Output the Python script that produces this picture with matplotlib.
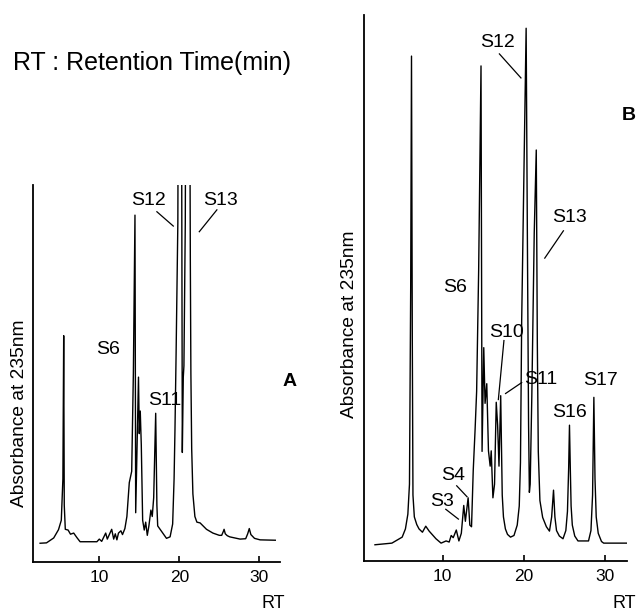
import matplotlib
matplotlib.use("Agg")
import matplotlib.pyplot as plt

plt.rcParams['font.family'] = ['Liberation Sans', 'DejaVu Sans']

# Chromatogram A (retention time in min, absorbance in % of axis height)
rt_a = [2.6, 3.4, 4.3, 4.9, 5.25, 5.45, 5.55, 5.62, 5.75, 6.1, 6.4, 6.8, 7.2, 7.6,
        9.7, 10.0, 10.3, 10.8, 11.0, 11.55, 11.8, 12.0, 12.2, 12.4, 12.7, 12.9, 13.2,
        13.45, 13.75, 14.05, 14.26, 14.46, 14.55, 14.9, 15.0, 15.12, 15.25, 15.42,
        15.62, 15.8, 16.0, 16.2, 16.45, 16.62, 16.8, 17.05, 17.2, 17.3, 17.6, 18.0,
        18.4, 18.85, 19.17, 19.35, 19.46, 19.6, 19.82, 20.1, 20.38, 20.5, 20.58,
        20.75, 21.05, 21.38, 21.45, 21.55, 21.7, 21.95, 22.2, 22.6, 23.4, 24.2, 25.0,
        25.3, 25.5, 25.6, 25.75, 26.0, 26.3, 27.6, 28.3, 28.55, 28.75, 28.95, 29.4,
        30.1, 32.0]
abs_a = [4.9, 5.0, 6.3, 8.5, 11, 22, 60, 15, 8.6, 8.4, 7.3, 7.6, 6.4, 5.3,
         5.3, 6.0, 5.4, 7.6, 6.0, 8.6, 6.0, 7.4, 5.8, 7.6, 8.2, 7.2, 8.8,
         12, 21, 24, 50, 92, 13, 49, 34, 40, 31, 11,
         8.4, 10.5, 7.0, 9.5, 13.7, 12.0, 17, 39.4, 15, 9.5, 8.6, 7.4,
         6.2, 6.6, 10, 22, 35, 55, 90, 300, 29, 49, 52,
         90, 300, 80, 50, 30, 18, 12, 10.5, 10.3, 8.6, 7.6, 7.0,
         7.0, 8.0, 8.6, 7.4, 6.9, 6.6, 6.0, 6.1, 7.4, 8.8, 7.2, 6.2,
         5.8, 5.7]

# Chromatogram B
rt_b = [1.64, 3.73, 5.0, 5.4, 5.7, 5.9, 6.05, 6.15, 6.25, 6.33, 6.5, 6.8, 7.08, 7.5,
        7.91, 8.33, 9.17, 9.8, 10.42, 10.8, 11.05, 11.3, 11.68, 12.0, 12.3, 12.6,
        12.8, 13.14, 13.35, 13.56, 13.77, 14.0, 14.19, 14.44, 14.73, 14.86, 15.07,
        15.23, 15.44, 15.65, 15.86, 15.99, 16.2, 16.4, 16.61, 16.78, 16.95, 17.16,
        17.35, 17.5, 17.74, 18.0, 18.37, 18.8, 19.2, 19.45, 19.6, 19.75, 20.3, 20.45,
        20.6, 20.7, 20.8, 21.0, 21.3, 21.55, 21.68, 21.8, 22.0, 22.34, 22.8, 23.18,
        23.45, 23.68, 23.85, 24.05, 24.4, 24.85, 25.2, 25.4, 25.55, 25.65, 25.75,
        25.85, 26.0, 26.3, 26.7, 28.0, 28.3, 28.5, 28.66, 28.8, 28.95, 29.2, 29.6,
        29.87, 32.8]
abs_b = [2.9, 3.2, 4.3, 5.8, 8.5, 14, 50, 92.4, 40, 12, 8.0, 6.6, 5.8, 5.2,
         6.3, 5.4, 4.0, 3.2, 3.6, 3.4, 4.6, 4.2, 5.6, 3.6, 5.0, 10.1,
         7.2, 11.5, 6.5, 6.2, 16.5, 24, 31, 53.2, 90.6, 20, 39,
         28.8, 32.4, 20.1, 17.3, 20.1, 11.5, 14, 29, 24.8, 17.3, 30.2,
         12, 8, 5.8, 4.8, 4.3, 4.6, 6.5, 10, 18, 43.9, 97.5, 60,
         25, 12.5, 14, 30, 60, 75.2, 40, 20, 11, 7.9, 6.2, 5.4,
         8, 12.9, 8, 5.5, 4.5, 4.0, 5.5, 9, 17, 24.8, 17,
         10, 6.5, 4.5, 3.6, 3.6, 5.5, 12, 29.9, 15, 8, 5, 3.5,
         3.2, 3.2]

ticks = [10, 20, 30]

W, H = 639, 613
fig = plt.figure(figsize=(W / 100, H / 100), dpi=100)


def px_axes(left, top, right, bottom):
    """axes from pixel box of the picture"""
    return fig.add_axes([left / W, 1 - bottom / H, (right - left) / W, (bottom - top) / H])


def style(ax, xlim):
    ax.set_xlim(*xlim)
    ax.set_ylim(0, 100)
    for s in ['top', 'right']:
        ax.spines[s].set_visible(False)
    for s in ['left', 'bottom']:
        ax.spines[s].set_linewidth(1.3)
    ax.set_yticks([])
    ax.set_xticks(ticks)
    ax.tick_params(axis='x', direction='in', length=4, width=1.2, pad=6, labelsize=12.5)


def label(ax, txt, x, y, line=None):
    ax.text(x, y, txt, ha='center', va='center', fontsize=14, clip_on=False)
    if line is not None:
        (x0, y0), (x1, y1) = line
        ax.plot([x0, x1], [y0, y1], color='black', lw=0.9, clip_on=False)


# Panel A
ax_a = px_axes(33.3, 185, 280, 561.7)
ax_a.plot(rt_a, abs_a, color='black', lw=1.0)
style(ax_a, (1.75, 32.59))
label(ax_a, 'S12', 16.1, 95.8, ((17.2, 92.9), (19.25, 89.1)))
label(ax_a, 'S13', 25.1, 95.8, ((24.7, 93.4), (22.5, 87.6)))
label(ax_a, 'S6', 11.1, 56.2)
label(ax_a, 'S11', 18.2, 42.9)

# Panel B
ax_b = px_axes(363.7, 14.6, 627, 560.6)
ax_b.plot(rt_b, abs_b, color='black', lw=1.0)
style(ax_b, (0.25, 32.75))
label(ax_b, 'S12', 16.8, 94.9, ((17.0, 92.8), (19.66, 88.4)))
label(ax_b, 'S13', 25.7, 62.9, ((24.9, 60.4), (22.6, 55.4)))
label(ax_b, 'S6', 11.5, 50.0)
label(ax_b, 'S10', 17.85, 41.8, ((17.56, 40.3), (16.87, 29.5)))
label(ax_b, 'S11', 22.1, 33.2, ((19.75, 32.6), (17.76, 30.6)))
label(ax_b, 'S16', 25.6, 27.2)
label(ax_b, 'S17', 29.5, 33.0)
label(ax_b, 'S4', 11.3, 15.6, ((11.73, 13.7), (13.0, 11.7)))
label(ax_b, 'S3', 9.96, 10.8, ((10.38, 9.4), (11.94, 7.6)))

# texts around the panels
fig.text(13 / W, 1 - 63 / H, 'RT : Retention Time(min)', ha='left', va='center', fontsize=18)
fig.text(20 / W, 1 - 413 / H, 'Absorbance at 235nm', rotation=90, ha='center', va='center', fontsize=13.8)
fig.text(350 / W, 1 - 324 / H, 'Absorbance at 235nm', rotation=90, ha='center', va='center', fontsize=13.8)
fig.text(290 / W, 1 - 382 / H, 'A', ha='center', va='center', fontsize=14, fontweight='heavy')
fig.text(629 / W, 1 - 115 / H, 'B', ha='center', va='center', fontsize=14, fontweight='heavy')
fig.text(273 / W, 1 - 603 / H, 'RT', ha='center', va='center', fontsize=13)
fig.text(636 / W, 1 - 603 / H, 'RT', ha='right', va='center', fontsize=13)

fig.savefig('out.png', dpi=100)
